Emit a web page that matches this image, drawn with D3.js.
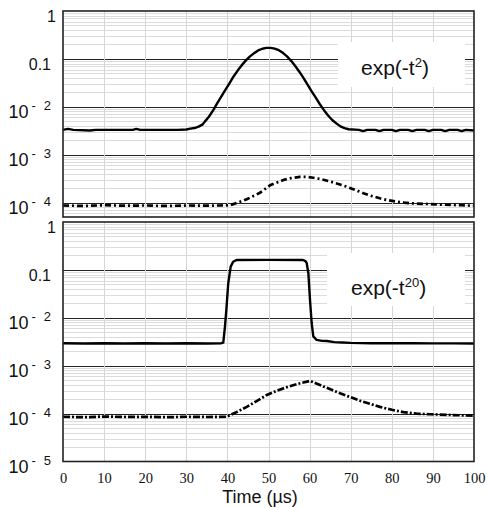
<!DOCTYPE html>
<meta charset="utf-8">
<head>
<style>
body { margin: 0; background: #fff; }
svg { display: block; }
.ylab { font-family: "Liberation Sans", Arial, sans-serif; font-size: 15px; fill: #111; }
.xaxis text { font-family: "Liberation Serif", "Times New Roman", serif; font-size: 14.5px; fill: #111; }
.xaxis path { display: none; }
.eq { font-family: "Liberation Sans", Arial, sans-serif; font-size: 21px; fill: #111; }
.title { font-family: "Liberation Sans", Arial, sans-serif; font-size: 18px; fill: #111; }
</style>
</head>
<body>
<div id="chart"></div>
<script src="https://d3js.org/d3.v7.min.js"></script>
<script>

// x axis ticks (time, µs)
var xTicks = [0, 10, 20, 30, 40, 50, 60, 70, 80, 90, 100];

// y tick labels, one entry per decade
var yVals = [1, 0.1, 1e-2, 1e-3, 1e-4, 1e-5];
var yMain = ["1", "0.1", "10", "10", "10", "10"];
var yExp  = ["", "", "2", "3", "4", "5"];

// top panel, exp(-t^2): [time, signal]
var topSolid = [
  [0, 3.3e-3], [1.2, 3.45e-3], [2.5, 3.3e-3], [6.5, 3.2e-3], [8, 3.3e-3], [17, 3.3e-3],
  [17.8, 3.45e-3], [18.8, 3.3e-3], [28, 3.3e-3], [30, 3.35e-3], [31, 3.5e-3], [32, 3.6e-3],
  [33, 3.85e-3], [34, 4.3e-3], [34.5, 4.9e-3], [35.5, 6.2e-3], [36.6, 8.6e-3], [37.5, 0.0118],
  [38.5, 0.0163], [39.5, 0.0225], [40.5, 0.031], [41.5, 0.043], [42.5, 0.057], [43.5, 0.074],
  [44.5, 0.093], [45.5, 0.113], [46.5, 0.132], [47.5, 0.150], [48.5, 0.163], [49.5, 0.170],
  [50.5, 0.170], [51.5, 0.164], [52.5, 0.152], [53.5, 0.134], [54.5, 0.113], [55.5, 0.091],
  [56.5, 0.071], [57.5, 0.054], [58.5, 0.040], [59.5, 0.029], [60.5, 0.021], [61.5, 0.0155],
  [62.5, 0.0113], [63.5, 0.0085], [64.5, 0.0066], [65.5, 0.0053], [66.5, 0.0045], [67.5, 0.0039],
  [68.5, 0.0036], [69.5, 0.0034], [72, 3.3e-3], [73, 3.1e-3], [74, 3.3e-3], [76, 3.3e-3],
  [77, 3.1e-3], [78, 3.3e-3], [80, 3.3e-3], [81, 3.1e-3], [82, 3.3e-3], [84, 3.3e-3],
  [85, 3.1e-3], [86, 3.3e-3], [88, 3.3e-3], [89, 3.1e-3], [90, 3.3e-3], [92, 3.3e-3],
  [93, 3.1e-3], [94, 3.3e-3], [96, 3.3e-3], [97, 3.1e-3], [98, 3.3e-3], [100, 3.2e-3]
];
var topDashed = [
  [0, 8.7e-5], [5, 8.5e-5], [10, 8.8e-5], [15, 8.6e-5], [20, 8.7e-5], [25, 8.5e-5],
  [30, 8.7e-5], [35, 8.6e-5], [38, 8.7e-5], [40.6, 8.8e-5], [42.5, 1.0e-4], [44.7, 1.17e-4],
  [47.9, 1.6e-4], [50.4, 2.3e-4], [53.6, 2.96e-4], [55.5, 3.25e-4], [57.7, 3.45e-4], [59.5, 3.42e-4],
  [60.9, 3.3e-4], [63, 3.05e-4], [65, 2.75e-4], [67, 2.45e-4], [69, 2.15e-4], [71, 1.85e-4],
  [73.1, 1.57e-4], [75, 1.38e-4], [77.1, 1.23e-4], [79, 1.12e-4], [81.2, 1.05e-4], [83, 1.0e-4],
  [85.2, 9.6e-5], [89.3, 9.3e-5], [93, 9.0e-5], [97, 8.8e-5], [100, 8.6e-5]
];

// bottom panel, exp(-t^20)
var botSolid = [
  [0, 2.95e-3], [5, 2.9e-3], [10, 2.95e-3], [15, 2.9e-3], [20, 2.95e-3], [25, 2.9e-3],
  [30, 2.95e-3], [35, 2.9e-3], [38.5, 2.95e-3], [39, 3.05e-3], [39.4, 6.5e-3], [39.8, 0.017],
  [40.2, 0.052], [40.8, 0.117], [41.4, 0.148], [42.2, 0.161], [50, 0.162], [58.4, 0.161],
  [59.0, 0.152], [59.3, 0.138], [59.7, 0.085], [60.1, 0.0235], [60.5, 0.0078], [60.9, 0.0041],
  [61.7, 0.00347], [63, 0.0033], [64.2, 0.00327], [66, 3.1e-3], [68, 3.05e-3], [70, 3.0e-3],
  [75, 2.95e-3], [80, 2.95e-3], [85, 2.95e-3], [90, 2.92e-3], [95, 2.92e-3], [100, 2.9e-3]
];
var botDashed = [
  [0, 8.6e-5], [5, 8.4e-5], [10, 8.7e-5], [15, 8.5e-5], [20, 8.6e-5], [25, 8.4e-5],
  [30, 8.6e-5], [35, 8.5e-5], [39.8, 8.6e-5], [42, 1.05e-4], [44.7, 1.38e-4], [47, 1.8e-4],
  [49.6, 2.45e-4], [52, 3.0e-4], [54.4, 3.55e-4], [57, 4.15e-4], [60.1, 4.8e-4], [61.5, 4.3e-4],
  [63.3, 3.7e-4], [65.5, 3.1e-4], [67.4, 2.65e-4], [70, 2.2e-4], [72.3, 1.85e-4], [75, 1.57e-4],
  [77.1, 1.38e-4], [80, 1.2e-4], [82.8, 1.07e-4], [86, 1.0e-4], [89.3, 9.7e-5], [95, 9.3e-5],
  [100, 9.1e-5]
];

var W = 487, H = 508;

var svg = d3.select("#chart").append("svg")
    .attr("width", W)
    .attr("height", H);

var x = d3.scaleLinear().domain([0, 100]).range([63, 474]);

var panels = [
  { top: 11, bottom: 217, domain: [5e-5, 1], solid: topSolid, dashed: topDashed,
    box: {x: 338, y: 42, w: 127, h: 45}, eq: {x: 361, y: 75, sup: "2"}, dash: "6,3,2,3" },
  { top: 222, bottom: 461.5, domain: [1e-5, 1], solid: botSolid, dashed: botDashed,
    box: {x: 327, y: 253, w: 138, h: 53}, eq: {x: 351, y: 295, sup: "20"}, dash: "7,2,2,2" }
];

panels.forEach(function(p, pi) {
  var y = d3.scaleLog().domain(p.domain).range([p.bottom, p.top]);
  var g = svg.append("g");

  // minor / major horizontal grid
  var hticks = y.ticks().filter(function(v) { return v > p.domain[0] * 1.001 && v < 0.999; });
  g.selectAll(".hgrid").data(hticks).enter().append("line")
    .attr("x1", x(0)).attr("x2", x(100))
    .attr("y1", function(v) { return Math.round(y(v)) + 0.5; })
    .attr("y2", function(v) { return Math.round(y(v)) + 0.5; })
    .attr("stroke", function(v) {
      var l = Math.log10(v);
      return Math.abs(l - Math.round(l)) < 1e-6 ? "#222" : "#dcdcdc";
    })
    .attr("stroke-width", 1);

  // vertical grid
  g.selectAll(".vgrid").data(xTicks.slice(1, -1)).enter().append("line")
    .attr("x1", function(d) { return Math.round(x(d)) + 0.5; })
    .attr("x2", function(d) { return Math.round(x(d)) + 0.5; })
    .attr("y1", p.top).attr("y2", p.bottom)
    .attr("stroke", "#d6d6d6");

  // white box behind equation
  g.append("rect")
    .attr("x", p.box.x).attr("y", p.box.y)
    .attr("width", p.box.w).attr("height", p.box.h)
    .attr("fill", "#fff");

  // curves
  var line = d3.line()
    .x(function(d) { return x(d[0]); })
    .y(function(d) { return y(d[1]); });

  g.append("path").datum(p.dashed)
    .attr("d", line)
    .attr("fill", "none")
    .attr("stroke", "#000")
    .attr("stroke-width", 2.7)
    .attr("stroke-dasharray", p.dash);

  g.append("path").datum(p.solid)
    .attr("d", line)
    .attr("fill", "none")
    .attr("stroke", "#000")
    .attr("stroke-width", 2.4)
    .attr("stroke-linejoin", "round");

  // frame
  g.append("rect")
    .attr("x", x(0)).attr("y", p.top)
    .attr("width", x(100) - x(0)).attr("height", p.bottom - p.top)
    .attr("fill", "none")
    .attr("stroke", "#222")
    .attr("stroke-width", 1.6);

  // y labels
  yVals.forEach(function(v, i) {
    if (v < p.domain[0] * 0.999) return;
    var t = g.append("text")
      .attr("class", "ylab")
      .attr("x", yMain[i] === "1" ? 56 : 51)
      .attr("y", y(v) + 11)
      .attr("text-anchor", "end");
    if (yExp[i]) {
      t.append("tspan").style("font-size", "18px").text(yMain[i]);
      t.append("tspan").attr("dx", 3).attr("dy", -8).style("font-size", "13px").text("-");
      t.append("tspan").attr("dx", 8).style("font-size", "13px").text(yExp[i]);
    } else {
      t.append("tspan").style("font-size", "16px").text(yMain[i]);
    }
  });

  // equation
  var e = g.append("text").attr("class", "eq").attr("x", p.eq.x).attr("y", p.eq.y);
  e.append("tspan").text("exp(-t");
  e.append("tspan").attr("dy", -8).style("font-size", "13px").text(p.eq.sup);
  e.append("tspan").attr("dy", 8).text(")");

  if (pi === 1) {
    svg.append("g")
      .attr("class", "xaxis")
      .attr("transform", "translate(0," + p.bottom + ")")
      .call(d3.axisBottom(x).tickValues(xTicks).tickSize(0).tickPadding(11));
  }
});

svg.append("text")
  .attr("class", "title")
  .attr("x", 260)
  .attr("y", 503)
  .attr("text-anchor", "middle")
  .text("Time (µs)");

</script>
</body>
</html>
